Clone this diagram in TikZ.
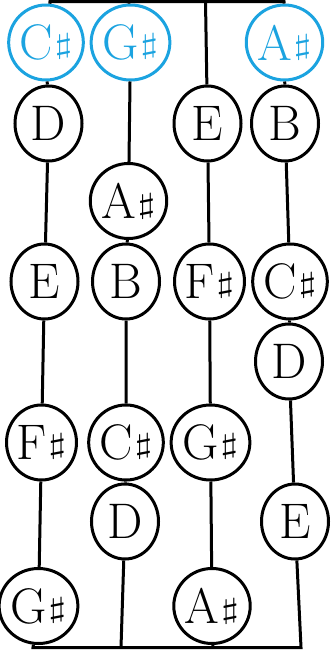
\documentclass[tikz,border=0pt]{standalone}
\usepackage{fontspec}
\usepackage{graphicx}
\usetikzlibrary{shapes.geometric}
\definecolor{noteblue}{RGB}{27,163,224}
\newcommand{\shrp}{\kern1.5pt\raisebox{5.6pt}{\scalebox{4.6}[2.85]{\fontsize{10}{12}\selectfont$\sharp$}}}
\begin{document}
\begin{tikzpicture}[x=1pt,y=-1pt,
  note/.style={ellipse, draw, line width=3pt, inner sep=0pt,
    minimum width=67pt, minimum height=75pt,
    font=\fontsize{50}{54}\selectfont},
  open/.style={note, draw=noteblue, text=noteblue},
  str/.style={line width=3pt, line join=miter}]
\useasboundingbox (0,0) rectangle (331,651);
% top and bottom bars
\coordinate (t1) at (50,1.5);
\coordinate (t2) at (129,1.5);
\coordinate (t3) at (205.5,1.5);
\coordinate (t4) at (284,1.5);
\coordinate (b1) at (33,647.5);
\coordinate (b2) at (121,647.5);
\coordinate (b3) at (213,647.5);
\coordinate (b4) at (301,647.5);
% column 1
\node[open] (c1) at (46,42.5) {C\shrp};
\node[note] (d1) at (48.5,123.5) {D};
\node[note] (e1) at (44.5,281.5) {E};
\node[note] (f1) at (41.5,442.5) {F\shrp};
\node[note] (g1) at (38.5,606) {G\shrp};
% column 2
\node[open] (g2) at (130.5,42.5) {G\shrp};
\node[note] (a2) at (128.5,201) {A\shrp};
\node[note] (bb2) at (126,281.5) {B};
\node[note] (c2) at (126,442.5) {C\shrp};
\node[note] (d2) at (125,521.5) {D};
% column 3
\node[note] (e3) at (207.5,123.5) {E};
\node[note] (f3) at (209.5,281.5) {F\shrp};
\node[note] (g3) at (210.5,442.5) {G\shrp};
\node[note] (a3) at (212,606) {A\shrp};
% column 4
\node[open] (a4) at (284.5,42.5) {A\shrp};
\node[note] (bb4) at (285,123.5) {B};
\node[note] (c4) at (290,281.5) {C\shrp};
\node[note] (d4) at (289,361.5) {D};
\node[note] (e4) at (295,521.5) {E};
% strings
\draw[str] (c1) -- (t1) -- (t4) -- (a4);
\draw[str] (g1) -- (b1) -- (b4) -- (e4);
\draw[str] (c1) -- (d1) -- (e1) -- (f1) -- (g1);
\draw[str] (t2) -- (g2) -- (a2) -- (bb2) -- (c2) -- (d2) -- (b2);
\draw[str] (t3) -- (e3) -- (f3) -- (g3) -- (a3) -- (b3);
\draw[str] (a4) -- (bb4) -- (c4) -- (d4) -- (e4);
\end{tikzpicture}
\end{document}
